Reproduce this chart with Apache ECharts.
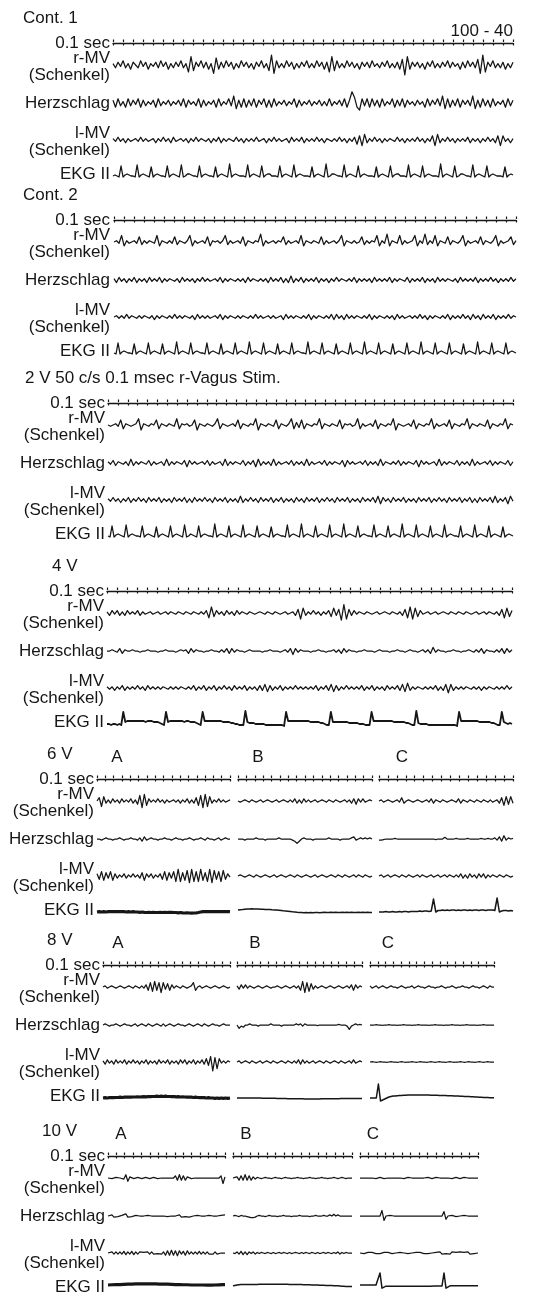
<!DOCTYPE html>
<html><head><meta charset="utf-8">
<script src="https://cdn.jsdelivr.net/npm/echarts/dist/echarts.min.js"></script>
<style>html,body{margin:0;padding:0;background:#fff}#c{width:548px;height:1301px}</style>
</head><body><div id="c"></div><script>
// ---------------- DATA (trace deflections, arbitrary units) ----------------
const panelTitles = ['Cont. 1','Cont. 2','2 V 50 c/s 0.1 msec r-Vagus Stim.','4 V','6 V','8 V','10 V'];
const segmentLetters = ['A','B','C'];
const traceLabels = ['0.1 sec','r-MV','(Schenkel)','Herzschlag','l-MV','(Schenkel)','EKG II'];
const cornerNote = '100 - 40';
// number of 0.1 s marks on each timing line
const ticksFull = [40,40,41,40];
const ticks6V = [16,16,15];
const ticks8V = [16,16,16];
const ticks10V = [14,14,14];

const c1_rmv=[1,-2,2,-1,3,-2,1,-3,2,0,-2,3,-1,2,-3,1,-1,2,-2,3,-1,2,-3,1,-2,2,-1,3,-2,1,-5,6,-4,2,-1,3,-2,2,-3,1,-6,5,-3,2,-2,3,-1,2,-3,1,-2,3,-1,2,-2,1,-3,2,-1,3,-2,1,-4,7,-6,3,-2,1,-2,3,-1,2,-3,1,-2,2,-1,3,-2,1,-2,3,-1,2,-3,2,-5,6,-4,3,-2,1,-2,3,-1,2,-2,1,-3,2,-1,2,-2,3,-1,1,-2,2,-1,3,-2,1,-2,2,-3,4,-7,6,-3,2,-1,2,-2,1,-3,2,-1,3,-2,1,-2,2,-1,3,-2,2,-1,1,-3,2,-2,3,-1,2,-2,4,-6,7,-5,2,-1,3,-2,1,-2,2,-3,1,-2,2];
const c1_herz=[2,-3,3,-2,1,-3,3,-2,2,-1,3,-3,2,-2,1,-1,2,-3,3,-2,1,-1,2,-2,1,-1,2,-2,3,-3,2,-1,1,-2,3,-3,2,-2,1,-1,2,-3,3,-2,1,-1,3,-2,5,-4,2,-3,3,-3,2,-2,3,-3,2,-1,3,-3,2,-3,3,-2,1,-1,2,-2,1,-1,3,-3,2,-2,1,-1,2,-2,1,-1,2,-2,1,-2,3,-2,1,-1,2,-2,3,-3,2,8,4,-3,-5,3,-2,3,-3,3,-2,2,-3,3,-2,1,-1,3,-3,2,-2,3,-3,2,-1,1,-2,2,-1,1,-3,3,-2,2,-1,3,-2,5,-4,3,-3,2,-2,3,-3,2,-1,2,-2,5,-4,2,-3,3,-2,2,-3,3,-2,1,-1,2,-3,3,-2,2];
const c1_lmv=[1,-1,2,-1,1,-2,1,-1,0,1,-1,2,-1,1,-1,0,1,-2,1,-1,2,-1,1,-2,2,-1,0,1,-1,1,-2,1,-1,2,-1,1,0,-1,1,-2,1,-1,2,-2,1,-1,1,0,-1,2,-1,1,-2,1,-1,1,-1,2,-1,0,1,-2,1,-1,2,-1,1,-1,0,1,-2,2,-1,1,-1,2,-2,1,-1,1,-1,2,-1,1,-2,1,0,-1,1,-1,2,-1,1,-2,1,-1,2,-3,3,-4,4,-2,1,-1,2,-1,1,-2,1,-1,1,0,-1,2,-1,1,-2,1,-1,1,-1,2,-1,1,-2,1,-1,3,-4,4,-2,1,-1,2,-1,1,-2,1,-1,1,-1,2,-2,1,-1,1,-2,1,-1,2,-1,1,-2,3,-4,3,-1,1,-2,1];
const c1_ekg=[0,1,0,-1,10,-1,1,2, 1,0,0,-1,11,-1,1,2, 1,0,-1,9,-1,1,2,1, 0,0,-1,10,-1,1,2,1, 0,-1,11,-1,0,2,2,1, 0,0,-1,10,-1,1,2,1, 0,0,-1,9,-1,1,2,1, 0,-1,12,-1,1,2,1,0, 0,0,-1,11,-1,1,2,1, 0,-1,10,-1,1,2,2,0, 0,0,-1,10,-1,1,2,1, 0,-1,11,-1,1,2,1,0, 0,0,-1,9,-1,1,2,1, 0,-1,12,-1,0,2,2,1, 0,0,-1,11,-1,1,2,1, 0,-1,10,-1,1,2,1,0, 0,0,-1,9,-1,1,2,1, 0,-1,10,-1,1,2,2,0, 0,0,-1,11,-1,1,2,1, 0,-1,10,-1,1,2,1,0, 0,0,-1,12,-1,1,2,1, 0,-1,10,-1,0,2,2,1, 0,0,-1,11,-1,1,2,1, 0,-1,10,-1,1,2,1,0, 0,0,-1,9,-1,1,2,1];

const c2_rmv=[0,1,-1,5,-3,1,-1,0,1,-1,4,-2,1,-1,1,0,-1,5,-3,1,0,-1,1,-1,4,-2,1,0,-1,1,5,-3,1,-1,0,1,-1,4,-3,1,0,1,-1,1,5,-2,1,-1,0,1,-1,4,-3,1,0,-1,1,0,6,-3,1,-1,0,1,-1,1,0,4,-2,1,-1,0,1,-1,5,-3,1,0,-1,1,0,-1,4,-2,1,-1,0,1,-1,1,5,-3,1,0,-1,1,-1,0,4,-2,1,-1,1,0,5,-3,1,-1,6,-3,1,0,-1,5,-2,1,-1,0,1,5,-3,1,-1,6,-2,1,-1,5,-3,1,0,-1,4,-2,1,0,-1,1,5,-3,1,-1,0,1,-1,4,-2,1,0,-1,1,5,-3,1,-1,0,1,4,-2,1];
const c2_herz=[1,-2,2,-1,1,-2,1,-1,2,-2,1,-1,1,-2,2,-1,1,-1,2,-2,1,-1,1,0,-1,1,-2,2,-1,1,-1,1,-2,1,-1,2,-1,1,-1,0,1,-1,2,-2,1,-1,1,0,-1,1,-1,1,-2,2,-1,1,0,-1,1,-1,1,-2,2,-1,1,-1,2,-2,1,-2,3,-2,1,-1,2,-2,1,-1,1,-1,2,-2,1,-1,1,-2,1,-1,2,-1,1,0,-1,1,-1,2,-2,1,-1,1,-1,1,-2,2,-1,1,-1,1,-1,2,-2,1,-1,1,0,-1,2,-2,1,-1,1,-1,2,-2,1,-1,1,-2,2,-1,1,-1,1,0,-1,1,-2,2,-1,1,-1,1,-1,2,-2,1,-1,1,-1,2,-1,1,-2,1,-1,1,-1,2,-1,1];
const c2_lmv=[0,1,-1,1,-1,2,-1,1,0,-1,1,-1,1,0,-1,1,-2,1,-1,1,0,-1,1,-1,2,-1,1,-1,1,0,-1,1,-2,2,-1,1,-1,1,-1,0,1,-1,2,-2,1,-1,1,0,-1,1,-1,1,0,-1,1,-1,2,-1,1,-1,0,1,-1,1,-1,0,1,-2,2,-1,1,-1,1,0,-1,1,-1,2,-2,1,-1,1,0,-1,1,-1,2,-2,2,-1,1,-2,2,-1,1,-1,1,0,-1,1,-1,2,-2,1,-1,1,0,-1,1,-1,1,-2,2,-1,1,-1,0,1,-1,1,-1,2,-1,1,-2,1,-1,1,0,-1,1,-1,2,-2,1,-1,1,-1,2,-1,1,-2,2,-1,1,-2,2,-1,1,-1,2,-2,1,-1,1,-1,2,-1,1,0];
const c2_ekg=[0,-1,10,-1,1,2,1, 0,0,-1,9,-1,1,2,1, 0,-1,10,-1,1,2,1, 0,-1,9,-1,1,2,1, 0,-1,11,-1,1,2,1, 0,-1,10,-1,1,2,1, 0,0,-1,10,-1,1,2,1, 0,-1,9,-1,1,2,1, 0,-1,10,-1,1,2,1, 0,-1,11,-1,1,2,1, 0,-1,10,-1,1,2,1, 0,-1,9,-1,1,2,1, 0,-1,10,-1,1,2,1, 0,0,-1,11,-1,1,2,1, 0,-1,10,-1,1,2,1, 0,-1,9,-1,1,2,1, 0,-1,10,-1,1,2,1, 0,-1,11,-1,1,2,1, 0,-1,10,-1,1,2,1, 0,-1,9,-1,1,2,1, 0,-1,10,-1,1,2,1, 0,-1,11,-1,1,2,1, 0,-1,10,-1,1,2,1, 0,-1,10,-1,1,2,1, 0,-1,9,-1,1,2,1, 0,-1,11,-1,1,2,1, 0,-1,10,-1,1,2,1, 0,-1,10,-1,1,2,1,0];

const v2_rmv=[0,-1,0,1,-1,4,-3,1,0,-1,0,1,5,-4,1,0,-1,1,0,4,-3,1,0,-1,1,0,-1,5,-3,1,0,1,-1,0,4,-4,1,0,-1,1,0,-1,1,5,-3,1,0,-1,0,1,-1,4,-3,1,0,-1,1,0,5,-4,1,0,-1,1,0,-1,4,-3,1,0,-1,1,5,-3,2,-2,4,-3,1,0,-1,1,0,5,-3,1,0,-1,1,0,-1,4,-3,1,0,1,-1,0,5,-3,1,-1,0,1,-1,4,-3,1,0,-1,1,0,5,-4,1,0,-1,0,1,-1,4,-3,1,0,-1,1,0,5,-3,1,-1,0,1,-1,4,-3,1,0,-1,1,0,5,-3,1,0,-1,1,0,-1,4,-3,1,0,-1,1,0,5,-3,1,0];
const v2_herz=[1,-1,2,-2,1,0,-1,1,-2,3,-2,1,-1,1,0,-1,2,-2,1,-1,0,1,-2,3,-2,1,-1,1,0,-1,2,-3,2,-1,1,-1,0,1,-1,2,-2,1,-1,0,1,-2,3,-2,1,-1,1,0,-1,2,-2,1,-1,2,-3,3,-2,1,-1,1,-2,3,-2,1,-1,0,1,-1,2,-2,1,-1,1,-2,3,-2,1,-1,0,1,-1,2,-2,1,-1,1,0,-1,2,-3,2,-1,1,-1,0,1,-1,2,-2,1,-1,1,-2,3,-2,1,0,-1,1,-1,2,-2,1,-1,1,0,-1,2,-3,2,-1,1,-1,0,1,-2,3,-2,1,-1,1,0,-1,2,-2,1,-1,1,-2,3,-2,1,-1,0,1,-1,2,-2,1,-1,1,0,-1,2,-2,1];
const v2_lmv=[1,-1,2,-1,1,-2,1,-1,2,-2,1,-1,2,-1,1,-2,2,-1,1,-1,2,-2,1,-1,1,-2,2,-1,1,-1,2,-2,1,-2,2,-1,1,-1,2,-1,1,-2,2,-1,1,-1,2,-2,1,-1,1,-2,3,-2,1,-1,2,-1,1,-2,2,-1,1,-1,2,-2,1,-1,2,-2,1,-1,1,-2,2,-1,1,-2,2,-1,1,-1,2,-2,1,-1,2,-1,1,-2,2,-1,1,-1,2,-2,1,-1,1,-2,2,-1,1,-1,2,-2,3,-3,2,-1,1,-2,2,-1,1,-1,2,-2,1,-1,1,-2,2,-1,1,-1,2,-2,1,-1,2,-1,1,-2,2,-1,1,-1,2,-2,1,-1,2,-2,1,-2,2,-1,1,-1,2,-2,3,-2,1,-1,2,-3,3,-1];
const v2_ekg=[0,-1,10,-1,1,2,1, 0,-1,11,-1,1,2,1, 0,0,-1,10,-1,1,2,1, 0,-1,9,-1,1,2,1, 0,-1,10,-1,1,2,1, 0,-1,11,-1,0,2,1, 0,-1,10,-1,1,2,1, 0,0,-1,12,-1,1,2,1, 0,-1,10,-1,1,2,1, 0,-1,11,-1,1,2,1, 0,-1,10,-1,1,2,1, 0,-1,9,-1,1,2,1, 0,0,-1,11,-1,1,2,1, 0,-1,12,-1,1,2,1, 0,-1,10,-1,1,2,1, 0,-1,11,-1,1,2,1, 0,-1,12,-1,1,2,1, 0,-1,10,-1,1,2,1, 0,0,-1,11,-1,1,2,1, 0,-1,10,-1,1,2,1, 0,-1,12,-1,1,2,1, 0,-1,11,-1,1,2,1, 0,-1,10,-1,1,2,1, 0,-1,11,-1,1,2,1, 0,0,-1,10,-1,1,2,1, 0,-1,11,-1,1,2,1, 0,-1,10,-1,1,2,1, 0,-1,9,-1,1,2,1,0];

const v4_rmv=[1,-2,2,-1,2,-2,1,-2,2,-1,1,-1,2,-2,1,-1,0,1,-1,0,1,-1,0,1,-1,1,0,-1,1,0,-1,1,0,-1,1,0,-1,1,-1,2,-4,5,-3,2,-1,1,-2,2,-1,1,-2,2,-1,1,0,-1,1,0,-1,0,1,0,-1,1,0,-1,1,0,-1,0,1,-1,0,1,-2,3,-5,4,-2,1,-1,2,-1,1,-2,1,-1,2,-3,4,-2,3,-6,7,-5,3,-2,2,-1,1,0,-1,1,0,-1,0,1,-1,0,1,0,-1,1,0,-1,1,-2,3,-4,5,-5,4,-3,2,-1,0,1,-1,0,1,-1,0,1,0,-1,1,0,-1,1,0,-1,1,0,-1,0,1,-1,0,1,-1,1,0,-1,1,-2,3,-4,4,-3,2];
const v4_herz=[0,0,1,0,-1,2,-2,1,0,0,1,0,0,-1,0,0,1,0,0,0,-1,0,0,1,0,0,0,-1,0,1,0,1,-2,2,-1,1,0,0,-1,0,0,1,0,0,-1,1,-1,2,-2,2,-1,1,0,0,-1,0,1,0,0,0,0,-1,0,0,1,0,0,0,-1,0,1,-1,2,-3,2,-1,1,0,0,0,-1,0,0,1,0,0,-1,0,0,1,-1,1,-2,2,-1,1,0,0,-1,0,0,1,0,0,0,-1,0,1,0,0,0,-1,0,0,1,0,0,-1,0,1,0,0,-1,0,1,-1,1,-2,3,-1,1,0,0,-1,0,0,1,0,0,-1,0,0,1,0,-1,1,-1,2,-2,1,0,0,-1,1,-1,2,-2,2,-1,1];
const v4_lmv=[1,-1,1,-2,1,-1,2,-2,1,-1,1,-1,2,-1,1,-2,2,-1,1,-1,1,-1,1,0,-1,1,-1,1,-1,1,0,-1,1,-1,2,-2,1,-1,2,-2,1,-1,2,-2,1,-1,2,-1,1,-2,2,-1,1,-1,2,-2,1,-1,1,-2,2,-2,3,-3,2,-2,1,-1,2,-2,1,-1,1,-1,2,-1,1,-1,1,-1,1,-1,2,-2,1,-1,2,-2,3,-3,2,-2,1,-1,2,-1,1,-1,1,-1,2,-2,1,-1,2,-2,1,-1,1,-2,2,-1,1,-1,2,-2,3,-3,4,-2,1,-1,1,0,-1,1,-1,1,-1,2,-2,1,-2,3,-4,3,-2,1,-1,1,-1,1,0,-1,1,-1,1,-2,1,-1,1,0,-1,1,-1,1,-1,2,-1,1];
const v4_ekg=[0,0,-1,0,0,-1,0,-1,12,2,3,3,3,3,3,3,3,3,3,2,3,3,3,2,2,2,1,0,-1,12,2,3,3,3,3,3,3,3,2,3,3,2,2,2,1,0,-1,12,3,3,3,3,3,3,3,3,3,2,2,2,2,1,1,0,0,-1,-1,-1,13,2,1,1,1,0,0,0,0,0,-1,-1,-1,-1,-1,-1,-1,-1,-1,-2,12,3,3,3,3,3,3,3,3,3,3,3,2,2,2,2,2,1,1,0,-1,-1,12,2,2,2,2,2,2,2,2,1,1,1,1,1,0,0,0,-1,-1,-1,12,3,3,3,3,3,3,3,3,3,3,2,2,2,2,2,2,1,1,0,-1,-1,13,1,0,0,0,0,-1,-1,-1,-1,-1,-1,-1,-1,-1,-1,-1,-1,-1,-1,-2,12,3,3,3,3,3,3,3,3,3,2,2,2,2,2,2,1,1,0,-1,-1,12,2,1,0,1,0];

const v6a_rmv=[0,3,-5,4,-2,1,-2,2,-1,1,-2,2,-1,1,-1,2,-2,1,-3,5,-6,6,-4,2,-1,1,-1,2,-1,1,-2,1,-1,0,1,-1,1,-2,1,-1,2,-2,1,-2,3,-4,5,-6,6,-5,4,-2,1,-1,2,-1,1,-1,0,1];
const v6a_herz=[0,0,-1,0,1,0,0,-1,0,0,1,0,-1,0,0,1,0,0,-1,1,-2,2,-1,0,1,0,0,-1,0,0,1,0,0,-1,0,1,0,0,-1,0,0,1,0,-1,0,0,1,0,-1,1,0,0,-1,0,1,-1,0,1,0,0];
const v6a_lmv=[2,-3,4,-4,3,-2,4,-4,2,-2,1,-1,2,-2,1,-1,2,-1,1,-2,3,-4,2,-1,2,-2,1,-1,2,-3,4,-4,3,-2,4,-5,6,-5,3,-4,5,-6,6,-5,4,-5,6,-4,3,-5,6,-6,5,-3,4,-5,5,-3,2,-1];
const v6a_ekg=[0,0.3,0,0.3,0,0.3,0.5,0.3,0.5,0.3,0.5,0.3,0.3,0,0.3,0,0.3,0,0,-0.3,0,-0.3,-0.5,-0.3,-0.5,-0.3,-0.5,-0.5,-0.3,-0.5,-0.3,-0.5,-0.3,-0.3,-0.5,-0.5,-0.8,-0.5,-0.8,-1,-0.8,-1,-1.2,-1,-0.8,-0.5,0,0.3,0.5,0.3,0.5,0.3,0.5,0.3,0.5,0.3,0.5,0.3,0.5,0.3];
const v6b_rmv=[0,-1,0,1,0,-1,1,0,-1,0,1,-1,0,1,0,-1,0,1,-1,0,1,0,-1,1,-1,2,-2,1,-2,2,-1,1,-1,0,1,-1,0,1,0,-1,1,0,-1,1,0,-1,0,1,-1,1,-2,2,-3,2,-1,2,-1,0,1,0];
const v6b_herz=[0,0,0,-1,0,0,0,0,1,0,0,0,-1,0,0,0,0,0,1,0,0,0,0,0,-1,-2,-4,-2,0,1,0,0,0,-1,0,0,0,0,0,0,1,0,0,0,0,-1,0,0,0,0,1,2,-1,0,1,0,1,0,1,0];
const v6b_lmv=[0,1,0,-1,0,1,0,-1,1,0,-1,0,1,0,-1,0,1,-1,0,1,0,-1,0,1,0,-1,1,0,-1,0,1,0,-1,0,1,-1,0,1,0,-1,0,1,0,-1,1,0,-1,1,0,-1,0,1,-1,1,0,-1,1,0,-1,0];
const v6b_ekg=[2,2.3,2.5,2.8,3,3,3.2,3,3,3,2.8,2.8,2.5,2.5,2.5,2.2,2,2,1.8,1.5,1.2,1,0.8,0.5,0.2,0,-0.3,-0.5,-0.5,-0.8,-0.5,-0.8,-0.5,-0.8,-0.5,-0.5,-0.8,-0.5,-0.3,-0.5,-0.5,-0.3,-0.5,-0.3,-0.5,-0.5,-0.3,-0.5,-0.3,-0.5,-0.3,-0.5,-0.5,-0.3,-0.5,-0.3,-0.5,-0.3,-0.5,-0.5];
const v6c_rmv=[0,1,-1,0,1,0,-1,0,1,-1,3,-2,0,1,0,-1,0,1,0,-1,0,1,-1,2,-2,1,0,-1,1,0,-1,0,1,0,-1,2,-2,1,0,-1,1,0,-1,1,0,-1,1,0,-1,1,-1,0,1,-2,3,-4,4,-3,4,-2];
const v6c_herz=[-1,-1,-0.5,0,0,0,0,0.5,0,0,0,0,0,0,0,0,0,0,0,0,0,0,0,0,0,-0.5,0,0,0,1.5,0,0,0,0,0.5,0,0,0,0,0.5,0,0,0,0,0,0.5,0,0,0.5,0,0,1,-1,2,-2,3,-1,1,0,0.5];
const v6c_lmv=[0,1,-1,0,1,-1,0,1,0,-1,1,0,-1,1,0,-1,0,1,-1,1,0,-1,0,1,-1,0,1,-1,0,1,-1,1,0,-1,1,-1,2,-2,1,-2,2,-1,1,-2,2,-1,2,-2,1,-1,1,0,-1,1,0,-1,1,0,-1,0];
const v6c_ekg=[0,0,0,0.5,0,0,0.5,0,0,0.5,0,0.5,0.5,0,0.5,0.5,0.5,0.5,1,0.5,1,1,0.5,1,13,0,1.5,1.5,2,1.5,2,1.5,2,2,1.5,2,1.5,2,2,1.5,2,1.5,2,2,1.5,2,2,1.5,2,2,2,1.5,14,0,1,1.5,1.5,1,1.5,1];

const v8a_rmv=[0,1,-1,0,1,0,-1,0,1,0,-1,0,1,0,-1,1,0,-1,1,-1,2,-3,4,-4,5,-3,4,-5,4,-2,3,-3,2,-1,1,0,-1,1,0,-1,0,1,4,-3,0,1,-1,0,1,0,-1,0,1,0,-1,0,1,0,-1,0];
const v8a_herz=[0,1,0,-1,0,0,1,0,-1,0,1,0,0,-1,0,1,-1,0,1,0,-1,1,0,-1,0,1,0,-1,1,-1,0,1,0,-1,0,1,0,0,-1,0,1,0,-1,0,1,0,-1,1,0,-1,0,1,0,0,-1,0,1,0,0,0];
const v8a_lmv=[1,-2,2,-1,1,-2,2,-1,1,-1,2,-2,1,-1,2,-1,1,-2,1,-1,2,-2,1,-1,1,-2,2,-1,1,-1,2,-2,1,-1,1,-2,2,-1,2,-2,1,-1,2,-2,1,-1,2,-2,3,-3,5,-8,4,-6,3,-1,1,-1,1,0];
const v8a_ekg=[0,0.3,0,0.3,0.5,0.3,0.5,0.5,0.8,0.5,0.8,0.8,1,0.8,1,1,1.2,1,1.2,1.3,1.2,1.5,1.3,1.5,1.5,1.8,1.5,1.8,1.5,1.8,1.5,1.5,1.3,1.5,1.2,1.3,1,1.2,1,0.8,1,0.8,0.5,0.8,0.5,0.3,0.5,0.3,0,0.3,0,0,-0.3,0,-0.3,0,-0.3,0,-0.3,0];
const v8b_rmv=[1,-2,2,-1,2,-1,1,0,-1,0,1,0,-1,0,1,0,-1,0,0,1,0,-1,0,1,0,-1,0,1,-1,1,-3,5,-5,4,-4,3,-2,1,-1,0,1,0,-1,0,1,0,-1,0,1,0,-1,0,1,-1,2,-3,2,-1,1,0];
const v8b_herz=[0,-3,-1,-2,0,0,1,0,0,0,-1,0,0,0,0,0,1,0,0,0,0,-1,0,0,0,0,0,0,1,0,1,-1,1,0,0,0,0,0,-0.5,0,0,0,0,0,0,0,0,0,0.5,0,0,0,-1,-4,-1,0,1,0,0.5,0];
const v8b_lmv=[0,1,-1,0,1,0,-1,1,0,-1,0,1,-1,0,1,0,-1,1,0,-1,0,1,0,-1,1,0,-1,1,-1,2,-2,2,-1,1,-1,0,1,-1,0,1,0,-1,1,0,-1,0,1,0,-1,1,0,-1,0,1,-1,2,-1,0,1,0];
const v8b_ekg=[0,0,0,0,0,0,0,0,0,0,0,0,-0.2,-0.2,-0.2,-0.3,-0.3,-0.3,-0.3,-0.5,-0.5,-0.5,-0.5,-0.5,-0.7,-0.7,-0.7,-0.7,-0.8,-0.8,-0.8,-0.8,-1,-1,-1,-1,-1,-1,-1,-1,-0.8,-0.8,-0.8,-0.8,-0.8,-0.8,-0.8,-0.8,-0.8,-0.6,-0.6,-0.6,-0.6,-0.6,-0.6,-0.6,-0.5,-0.5,-0.5,-0.5];
const v8c_rmv=[1,-1,0,1,-1,0,1,0,-1,0,1,0,0,-1,0,1,0,-1,0,0,1,-1,0,1,0,0,-1,0,1,0,0,-1,0,0,1,0,-1,0,0,1,0,-1,0,0,1,0,0,-1,0,1,0,0,-1,0,1,0,-1,1,0,0];
const v8c_herz=[0,0,0,0.3,0,0,-0.3,0,0,0.3,0,0,0,-0.3,0,0,0.3,0,0,0,-0.3,0,0,0.3,0,0,0,0,-0.3,0,0,0.3,0,0,0,-0.3,0,0,0,0.3,0,0,0,-0.3,0,0,0.3,0,0,0,0,-0.3,0,0,0.3,0,0,0,0,0];
const v8c_lmv=[0,0.3,0,-0.3,0,0.3,0,0,-0.3,0,0.3,0,0,-0.3,0,0.3,0,-0.3,0,0,0.3,0,-0.3,0,0.3,0,0,-0.3,0,0.3,0,-0.3,0,0.3,0,0,-0.3,0,0.3,0,-0.3,0,0,0.3,0,-0.3,0,0.3,0,0,-0.3,0,0.3,0,-0.3,0,0.3,0,0,0];
const v8c_ekg=[0,0,0,0,14,-3,-2,-1,0,1,1.5,2,2,2.3,2.5,2.5,2.7,2.7,3,3,3,3,3,3,3,3,3,3,3,2.8,2.8,2.8,2.8,2.5,2.5,2.5,2.5,2.3,2.3,2.2,2,2,2,1.8,1.8,1.6,1.5,1.5,1.3,1.2,1,1,0.8,0.8,0.6,0.5,0.5,0.3,0.3,0.2];

const v10a_rmv=[0,0.5,-0.5,0,0.5,-0.5,0,1,-1,3,-3,1,0,-0.5,0,0.5,0,-0.5,0,0.5,0,-0.5,0,0.5,0,-0.5,0,0,0.5,0,-0.5,0,0.5,0,2,-2,3,-2,2,-2,1,0,-0.5,0.5,0,-0.5,0,0.5,0,-0.5,0,0.5,0,-0.5,0,0.5,0,2,-5,1];
const v10a_herz=[0,0,1,-1,0,-0.5,0,0.5,1,2,-1,0,-0.5,0,0.5,0,0,-0.5,0,0,0.5,0,0,-0.5,0,0,0,0.5,0,0,-0.5,0,0,0.5,0,-0.5,1,-1,0.5,-0.5,1,-1,0.5,0,0,0.5,1,0,0.5,0,0,0.5,0,0,0.5,0,1,0.5,1.5,1];
const v10a_lmv=[0,-1,1,-1,1,-1,1,-1,1.5,-1.5,1,-1,1.5,-1.5,1,-1,1,-0.5,0.5,-1,1,-1,1,-1,0.5,-0.5,1,-1,1,-2,2,-2,2.5,-2,2,-2.5,2,-1,1.5,-2,2,-1,1,-1,1,-1,1.5,-1,1,-1,1,-1,0.5,-1,1,-1,0.5,0,0,0];
const v10a_ekg=[0,0,0.3,0.3,0.5,0.5,0.5,0.8,0.8,1,1,1,1.2,1.2,1.3,1.3,1.5,1.5,1.5,1.5,1.5,1.5,1.5,1.3,1.3,1.3,1.2,1.2,1,1,1,0.8,0.8,0.8,0.5,0.5,0.5,0.3,0.3,0.3,0.3,0.3,0,0,0,0,0,0,0,-0.2,-0.2,-0.2,-0.2,0,0,0,0.2,0.2,0.5,0.5];
const v10b_rmv=[0,0.5,1,-2,2,-2,3,-2,2,-2,1,-1,0.5,0,-0.5,0,0.5,0,0,-0.5,0,0.5,0,0,-0.5,0,0.5,0,0,-0.5,0,0,0.5,0,0,-0.5,0,0,0.5,0,0,-0.5,0,0,0.5,0,0,-0.5,0,0,0.5,0,-0.5,0,0.5,0,-0.5,0,0,0];
const v10b_herz=[0,0.5,0,-0.5,0.5,0,0,-0.5,-1,-1.5,-1.5,-1,0,0.5,0,0,-0.5,0,0.5,0,0,0,-0.5,0,0,0.5,0,0,0,-0.5,0,0,0,0.5,0,0,0,0,-0.5,0,0,0.5,0,0,0,0.5,0,0,1,0,1.5,0,1,0,0,0,0,0,0,0];
const v10b_lmv=[0,-0.5,1,-1,1.5,-1.5,1,-1.5,1,-0.5,1,-1,0.5,-0.5,0.5,0,-0.5,0.5,0,-0.5,0.5,-0.5,0,0.5,-0.5,0.5,0,-0.5,0.5,-0.5,0,0.5,0,-0.5,0.5,-0.5,0.5,0,-0.5,0.5,0,-0.5,0.5,-0.5,0,0.5,-0.5,0.5,0,-0.5,0.5,-0.5,1,-1,0.5,-0.5,0.5,0,0,0];
const v10b_ekg=[-1,-0.5,0,0.3,0.5,0.5,0.5,0.5,0.5,0.7,0.7,0.7,0.7,0.8,0.8,0.8,0.8,1,1,1,1,1,1,1,0.8,0.8,0.8,0.8,0.7,0.7,0.7,0.5,0.5,0.5,0.5,0.3,0.3,0.3,0.3,0,0,0,0,-0.3,-0.3,-0.3,-0.5,-0.5,-0.7,-0.7,-0.8,-1,-1,-1.2,-1.5,-1.5,-1.8,-2,-2,-2];
const v10c_rmv=[0,0.5,0,-0.5,0,0.5,0,0,-0.5,0,0.5,0,-0.5,0,0,0.5,0,-0.5,0,0.5,0,0,-0.5,0,0.5,0,0,-0.5,0,0.5,0,-0.5,0,0,0.5,0,-0.5,0,0.5,0,0,-0.5,0,0.5,0,0,-0.5,0,0.5,0,-0.5,0,0.5,0,0,-0.5,0,0.5,0,0];
const v10c_herz=[0,0,0,0,0,0,0,0,0,0,0,5,-4,0,0,0.5,0,0,0,0,0,0,0,0,0,0,0,0,0,0,0,0,0,0,0,0,0,0,0,0,0,0,4,-3,0,0,0.5,0,-0.5,0.5,0,-0.5,0.5,0,0,0,0,0,0,0];
const v10c_lmv=[0,0.5,-0.5,0,0.5,-0.5,0.5,0,-0.5,0.5,-0.5,0,0.5,-0.5,0.5,0,-0.5,0.5,0,-0.5,0.5,-0.5,0,0.5,-0.5,0.5,0,-0.5,0.5,-0.5,0.5,0,-0.5,0.5,-0.5,0.5,0,-0.5,0.5,-0.5,1,-1,0.5,-0.5,1,-1,1,-0.5,0.5,-1,1,-0.5,0.5,-0.5,1,-1,0.5,-0.5,0.5,0];
const v10c_ekg=[0,0,0,0,0,0,0,0,0,0,15,-4,-2,-1.5,-1.5,-1.5,-1.5,-1.5,-1.5,-1.5,-1.5,-1.5,-1.5,-1.5,-1.5,-1.5,-1.5,-1.5,-1.5,-1.5,-1.5,-1.5,-1.5,-1.5,-1.5,-1.5,-1.2,-1.2,-1.2,-1.2,-1.2,-1.2,15,-4,-2,-1,-0.8,-0.8,-0.8,-0.8,-0.8,-0.8,-0.8,-0.8,-0.8,-0.8,-0.8,-0.8,-0.8,-0.8];

// ---------------- LAYOUT ----------------
const INK = '#161616';
const FONT = '"Liberation Sans", Arial, Helvetica, sans-serif';
const FS = 17;
// g = display gain of the muscle / heart traces in each panel
const panels = [
  {title:0, tx:23, y:18, lr:110, g:1.4, segs:[{x0:113,x1:513,ticks:ticksFull[0],d:[c1_rmv,c1_herz,c1_lmv,c1_ekg],ew:1.3}]},
  {title:1, tx:23, y:195, lr:110, g:1.3, segs:[{x0:114,x1:516,ticks:ticksFull[1],d:[c2_rmv,c2_herz,c2_lmv,c2_ekg],ew:1.3}]},
  {title:2, tx:25, y:378, lr:105, g:1.25, segs:[{x0:108,x1:513,ticks:ticksFull[2],d:[v2_rmv,v2_herz,v2_lmv,v2_ekg],ew:1.3}]},
  {title:3, tx:52, y:566, lr:104, g:1.2, segs:[{x0:107,x1:512,ticks:ticksFull[3],d:[v4_rmv,v4_herz,v4_lmv,v4_ekg],ew:1.8}]},
  {title:4, tx:47, y:754, lr:94, g:1.1, segs:[
    {x0:97,x1:230,ticks:ticks6V[0],d:[v6a_rmv,v6a_herz,v6a_lmv,v6a_ekg],ew:3.2,lx:117},
    {x0:238,x1:372,ticks:ticks6V[1],d:[v6b_rmv,v6b_herz,v6b_lmv,v6b_ekg],ew:1.5,lx:258},
    {x0:379,x1:513,ticks:ticks6V[2],d:[v6c_rmv,v6c_herz,v6c_lmv,v6c_ekg],ew:1.5,lx:402}]},
  {title:5, tx:47, y:940, lr:100, g:1.1, segs:[
    {x0:103,x1:230,ticks:ticks8V[0],d:[v8a_rmv,v8a_herz,v8a_lmv,v8a_ekg],ew:3.2,lx:118},
    {x0:237,x1:362,ticks:ticks8V[1],d:[v8b_rmv,v8b_herz,v8b_lmv,v8b_ekg],ew:1.5,lx:255},
    {x0:370,x1:494,ticks:ticks8V[2],d:[v8c_rmv,v8c_herz,v8c_lmv,v8c_ekg],ew:1.5,lx:388}]},
  {title:6, tx:42, y:1131, lr:105, g:1.1, segs:[
    {x0:108,x1:225,ticks:ticks10V[0],d:[v10a_rmv,v10a_herz,v10a_lmv,v10a_ekg],ew:3.2,lx:121},
    {x0:233,x1:352,ticks:ticks10V[1],d:[v10b_rmv,v10b_herz,v10b_lmv,v10b_ekg],ew:1.5,lx:246},
    {x0:360,x1:478,ticks:ticks10V[2],d:[v10c_rmv,v10c_herz,v10c_lmv,v10c_ekg],ew:1.5,lx:373}]}
];

const grids=[], xAxes=[], yAxes=[], series=[], texts=[];
function addText(text,x,y,align,size){
  texts.push({type:'text',silent:true,x:x,y:y,style:{text:text,font:(size||FS)+'px '+FONT,fill:INK,
    textAlign:align,textVerticalAlign:'middle',align:align,verticalAlign:'middle'}});
}
function addTrace(arr,x0,x1,cy,amp,lw){
  const gi=grids.length;
  grids.push({left:x0,top:cy-amp,width:x1-x0,height:2*amp});
  xAxes.push({type:'value',gridIndex:gi,min:0,max:arr.length-1,show:false});
  yAxes.push({type:'value',gridIndex:gi,min:-amp,max:amp,show:false});
  series.push({type:'line',xAxisIndex:xAxes.length-1,yAxisIndex:yAxes.length-1,
    data:arr.map((v,i)=>[i,v]),showSymbol:false,symbol:'none',clip:false,silent:true,
    lineStyle:{color:INK,width:lw,join:'round'}});
}
// trace with a display gain: same pixel box, y-range divided by the gain
function addScaledTrace(arr,x0,x1,cy,box,gain,lw){
  const gi=grids.length;
  grids.push({left:x0,top:cy-box,width:x1-x0,height:2*box});
  xAxes.push({type:'value',gridIndex:gi,min:0,max:arr.length-1,show:false});
  yAxes.push({type:'value',gridIndex:gi,min:-box/gain,max:box/gain,show:false});
  series.push({type:'line',xAxisIndex:xAxes.length-1,yAxisIndex:yAxes.length-1,
    data:arr.map((v,i)=>[i,v]),showSymbol:false,symbol:'none',clip:false,silent:true,
    lineStyle:{color:INK,width:lw,join:'round'}});
}
function addTiming(n,x0,x1,cy){
  const gi=grids.length;
  grids.push({left:x0,top:cy-1,width:x1-x0,height:1});
  const base={type:'value',gridIndex:gi,min:0,max:n,interval:1,axisLabel:{show:false},splitLine:{show:false}};
  xAxes.push(Object.assign({},base,{position:'bottom',axisLine:{show:true,lineStyle:{color:INK,width:1.3}},
    axisTick:{show:true,length:2.5,lineStyle:{color:INK,width:1.2}}}));
  xAxes.push(Object.assign({},base,{position:'top',axisLine:{show:false},
    axisTick:{show:true,length:2.5,lineStyle:{color:INK,width:1.2}}}));
  yAxes.push({type:'value',gridIndex:gi,min:0,max:1,show:false});
}
panels.forEach(p=>{
  const y0=p.y, tY=y0+25, rY=y0+47, hY=y0+85, lY=y0+122, eY=y0+158;
  addText(panelTitles[p.title],p.tx,y0,'left');
  addText(traceLabels[0],p.lr,tY,'right');
  addText(traceLabels[1],p.lr,rY-7,'right');
  addText(traceLabels[2],p.lr,rY+10,'right');
  addText(traceLabels[3],p.lr,hY,'right');
  addText(traceLabels[4],p.lr,lY-7,'right');
  addText(traceLabels[5],p.lr,lY+10,'right');
  addText(traceLabels[6],p.lr,eY-2,'right');
  p.segs.forEach((s,k)=>{
    if(s.lx!==undefined) addText(segmentLetters[k],s.lx,y0+3,'center');
    addTiming(s.ticks,s.x0,s.x1,tY);
    addScaledTrace(s.d[0],s.x0,s.x1,rY,20,p.g,1.25);
    addScaledTrace(s.d[1],s.x0,s.x1,hY,20,p.g,1.25);
    addScaledTrace(s.d[2],s.x0,s.x1,lY,20,p.g,1.25);
    addTrace(s.d[3],s.x0,s.x1,eY,20,s.ew);
  });
});
addText(cornerNote,513,31,'right');

const chart=echarts.init(document.getElementById('c'),null,{renderer:'canvas'});
chart.setOption({animation:false,backgroundColor:'#ffffff',grid:grids,xAxis:xAxes,yAxis:yAxes,series:series,
  graphic:{elements:texts}});
</script></body></html>
